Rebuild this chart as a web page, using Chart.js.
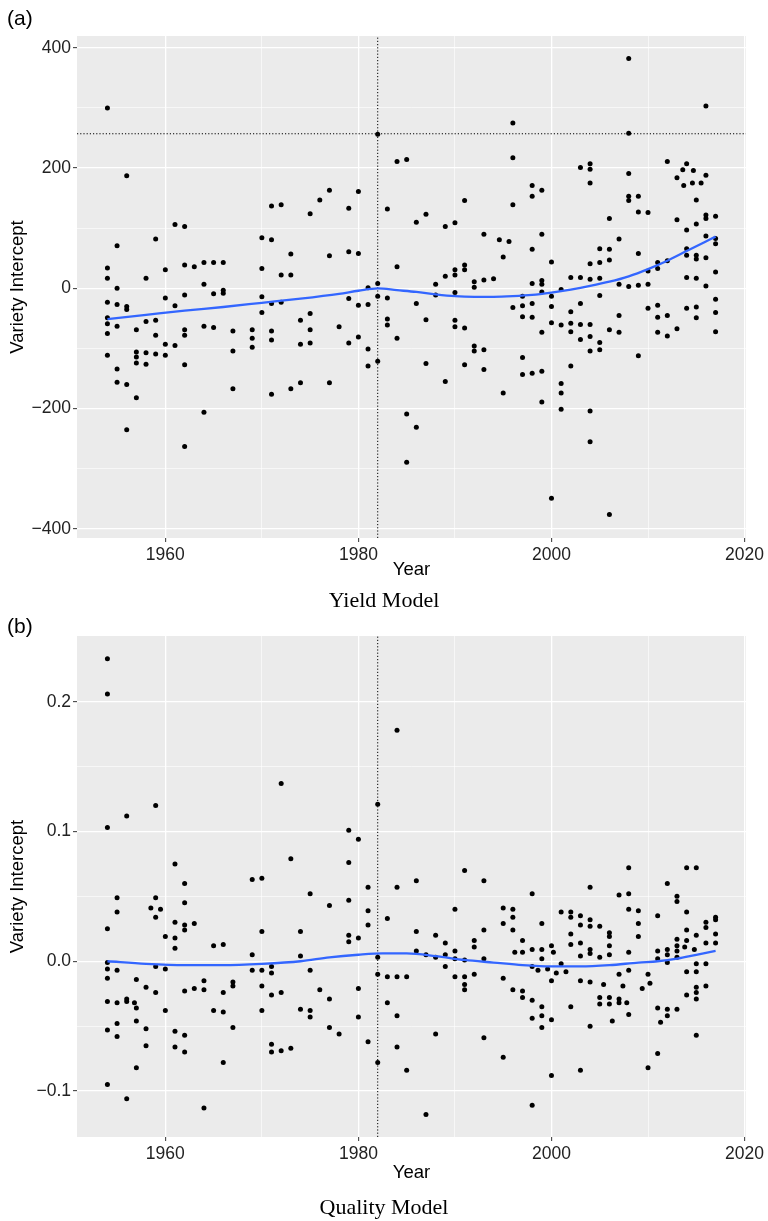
<!DOCTYPE html>
<html>
<head>
<meta charset="utf-8">
<script src="https://cdn.jsdelivr.net/npm/chart.js@4.4.0/dist/chart.umd.min.js"></script>
<style>
  body { margin: 0; background: #fff; width: 768px; height: 1221px; position: relative; overflow: hidden;
         font-family: "Liberation Sans", Arial, sans-serif; }
  canvas { position: absolute; left: 0; }
  #chartA { top: 0; }
  #chartB { top: 600px; }
  .tag { position: absolute; left: 7px; font-size: 21px; line-height: 24px; color: #000; }
  .caption { position: absolute; left: 0; width: 768px; text-align: center; line-height: 26px;
             font-family: "Liberation Serif", "Times New Roman", serif; font-size: 22px; color: #000; }
</style>
</head>
<body>
<canvas id="chartA" width="768" height="600"></canvas>
<canvas id="chartB" width="768" height="621"></canvas>
<div class="tag" style="top:6px">(a)</div>
<div class="tag" style="top:614px">(b)</div>
<div class="caption" style="top:587px">Yield Model</div>
<div class="caption" style="top:1194px">Quality Model</div>

<script>
// ---- data ----
const yieldYears = [1954, 1955, 1956, 1957, 1958, 1959, 1960, 1961, 1962, 1963, 1964, 1965, 1966, 1967, 1969,
    1970, 1971, 1972, 1973, 1974, 1975, 1976, 1977, 1978, 1979, 1980, 1981, 1982, 1983, 1984, 1985, 1986,
    1987, 1988, 1989, 1990, 1991, 1992, 1993, 1994, 1994.6, 1995, 1995.6, 1996, 1997, 1998, 1999, 2000,
    2001, 2002, 2003, 2004, 2005, 2006, 2007, 2008, 2009, 2010, 2011, 2012, 2013, 2013.6, 2013.7, 2014,
    2014.6, 2014.7, 2015, 2015.5, 2016, 2017];
const yieldValues = [
    [300, 34, 17, -23, -49, -59, -75, -111],
    [71, 0, -27, -63, -134, -156],
    [187, -30, -35, -160, -235],
    [-69, -106, -114, -124, -182],
    [17, -55, -107, -126],
    [82, -53, -78, -109],
    [31, -16, -93, -111],
    [106, -29, -95],
    [103, 39, -11, -69, -78, -127, -263],
    [36],
    [43, 7, -63, -206],
    [43, -9, -65],
    [43, -3, -8],
    [-71, -104, -167],
    [-69, -83, -98],
    [84, 33, -14, -40],
    [137, 81, -25, -71, -86, -176],
    [139, 22, -23],
    [57, 22, -167],
    [-53, -93, -157],
    [124, -42, -69, -91],
    [147],
    [163, 54, -157],
    [-64],
    [133, 61, -17, -91],
    [161, 58, -28, -81],
    [1, -27, -101, -129],
    [256, 8, -13, -121],
    [132, -16, -51, -61],
    [211, 36, -83],
    [214, -209, -289],
    [110, -25, -231],
    [123, -52, -125],
    [7, -11],
    [103, 20, -155],
    [109, 31, 22, -7, -53, -64],
    [146, 39, 31, -66, -127],
    [11, 2, -96, -104],
    [90, 14, -102, -135],
    [16],
    [81],
    [52, -174],
    [78],
    [275, 217, 139, -32],
    [-13, -29, -47, -115, -143],
    [171, 153, 65, 8, -25, -48, -141],
    [163, 90, 13, 7, -6, -73, -138, -189],
    [44, -13, -30, -57, -349],
    [-2, -61, -158, -174, -201],
    [18, -39, -58, -72, -129],
    [201, 18, -25, -60, -85],
    [207, 198, 175, 41, 15, -60, -80, -104, -204, -255],
    [66, 43, 17, -12, -90, -102],
    [116, 65, 47, -69, -376],
    [82, 7, -45, -73],
    [382, 258, 191, 153, 146, 3],
    [153, 127, 58, 5, -112],
    [126, 29, 7, -33],
    [43, 33, -28, -48, -73],
    [211, 46, -45, -79],
    [184, 114, -67],
    [197],
    [171],
    [207, 97, 66, 55, 18, -33],
    [175],
    [196],
    [147, 107, 55, 49, 17, -31, -49],
    [175],
    [303, 188, 122, 116, 87, 51, 4],
    [120, 83, 74, 27, -18, -40, -72]
];
const yieldSmoothYears = [1954, 1958, 1962, 1966, 1970, 1974, 1978, 1980, 1982, 1984, 1986, 1988, 1990,
    1992, 1994, 1996, 1998, 2000, 2002, 2004, 2006, 2008, 2010, 2012, 2014, 2016, 2017];
const yieldSmoothValues = [-51, -44, -37, -31, -24, -17, -9, -4, 0, -3, -6, -10, -13,
    -14, -14, -13, -11, -7, -2, 4, 11, 20, 32, 46, 62, 78, 86];

const qualityYears = [1954, 1955, 1956, 1956.8, 1957, 1958, 1958.5, 1959, 1959.5, 1960, 1961, 1962, 1963,
    1964, 1965, 1966, 1967, 1969, 1970, 1971, 1972, 1973, 1974, 1975, 1976, 1977, 1978, 1979, 1980, 1981,
    1982, 1983, 1984, 1985, 1986, 1987, 1988, 1989, 1990, 1991, 1992, 1993, 1995, 1996, 1996.2, 1997, 1998,
    1998.6, 1999, 1999.6, 2000, 2000.2, 2000.5, 2001, 2001.5, 2002, 2003, 2004, 2005, 2005.4, 2006, 2006.3,
    2007, 2007.4, 2007.8, 2008, 2009, 2009.4, 2010, 2010.2, 2011, 2011.3, 2012, 2013, 2013.8, 2014, 2014.8,
    2015, 2016, 2017];
const qualityValues = [
    [0.233, 0.206, 0.103, 0.025, -0.001, -0.006, -0.013, -0.031, -0.053, -0.095],
    [0.049, 0.038, -0.007, -0.032, -0.048, -0.058],
    [0.112, -0.029, -0.031, -0.106],
    [-0.032],
    [-0.014, -0.036, -0.046, -0.082],
    [-0.020, -0.052, -0.065],
    [0.041],
    [0.120, 0.049, 0.034, -0.004, -0.024],
    [0.040],
    [0.019, -0.006, -0.038],
    [0.075, 0.030, 0.018, 0.010, -0.054, -0.066],
    [0.060, 0.045, 0.028, 0.024, -0.023, -0.057, -0.070],
    [0.029, -0.021],
    [-0.015, -0.022, -0.113],
    [0.012, -0.038],
    [0.013, -0.024, -0.039, -0.078],
    [-0.016, -0.019, -0.051],
    [0.063, 0.005, -0.007],
    [0.064, 0.023, -0.007, -0.019, -0.038],
    [-0.004, -0.009, -0.026, -0.064, -0.070],
    [0.137, -0.024, -0.069],
    [0.079, -0.067],
    [0.023, 0.004, -0.037],
    [0.052, -0.007, -0.038, -0.043],
    [-0.022],
    [0.043, -0.029, -0.051],
    [-0.056],
    [0.101, 0.076, 0.047, 0.020, 0.015],
    [0.094, 0.018, -0.021, -0.043],
    [0.057, 0.039, 0.028, -0.062],
    [0.121, 0.003, -0.010, -0.078],
    [0.033, -0.012, -0.032],
    [0.178, 0.057, -0.012, -0.042, -0.066],
    [-0.012, -0.084],
    [0.062, 0.023, 0.008],
    [0.005, -0.118],
    [0.020, 0.003, -0.056],
    [0.014, 0.005, -0.004],
    [0.040, 0.008, 0.002, -0.012],
    [0.070, 0.001, -0.012, -0.018, -0.022],
    [0.016, 0.011, -0.010],
    [0.062, 0.024, 0.002, -0.059],
    [0.041, 0.029, -0.013, -0.074],
    [0.040, 0.034, 0.024, -0.022],
    [0.007],
    [0.016, 0.007, -0.023, -0.028],
    [0.052, 0.009, -0.004, -0.030, -0.044, -0.111],
    [-0.007],
    [0.029, 0.009, 0.002, -0.035, -0.042, -0.051],
    [-0.006],
    [0.012, -0.015, -0.045, -0.088],
    [0.007],
    [-0.009],
    [0.038, -0.002],
    [-0.008],
    [0.038, 0.034, 0.021, 0.013, -0.035],
    [0.035, 0.028, 0.014, 0.004, -0.015, -0.084],
    [0.057, 0.032, 0.027, 0.009, 0.006, -0.016, -0.050],
    [0.027, 0.003, -0.028, -0.033],
    [-0.018],
    [0.022, 0.019, 0.012, 0.005, -0.028, -0.033],
    [-0.046],
    [0.051, -0.010, -0.029, -0.032],
    [-0.019],
    [-0.032],
    [0.072, 0.052, 0.040, 0.007, -0.007, -0.041],
    [0.039, 0.029, 0.019],
    [-0.021],
    [-0.010, -0.082],
    [-0.017],
    [0.035, 0.008, 0.002, -0.036, -0.071],
    [-0.047],
    [0.060, 0.009, 0.005, -0.001, -0.037, -0.042],
    [0.050, 0.046, 0.017, 0.012, 0.008, 0.003, -0.037],
    [0.011],
    [0.072, 0.038, 0.024, 0.016, -0.008, -0.026],
    [0.009],
    [0.072, 0.020, -0.002, -0.008, -0.020, -0.024, -0.029, -0.057],
    [0.030, 0.026, 0.014, -0.002, -0.019],
    [0.034, 0.032, 0.021, 0.014]
];
const qualitySmoothYears = [1954, 1958, 1962, 1966, 1970, 1974, 1977, 1980, 1982.5, 1985, 1988, 1991,
    1994, 1997, 2000, 2003, 2006, 2009, 2011, 2013, 2015, 2017];
const qualitySmoothValues = [0.000, -0.002, -0.003, -0.003, -0.002, 0.000, 0.003, 0.005, 0.006, 0.006,
    0.004, 0.001, -0.001, -0.003, -0.004, -0.004, -0.003, -0.001, 0.000, 0.002, 0.005, 0.008];

const cutoffYear = 1982;
const yieldCutoff = 257;

const yearTicks = [1960, 1970, 1980, 1990, 2000, 2010, 2020];
const yearLabels = [1960, 1980, 2000, 2020];
const yieldTicks = [-400, -300, -200, -100, 0, 100, 200, 300, 400];
const yieldLabels = [-400, -200, 0, 200, 400];
const qualityTicks = [-0.1, -0.05, 0, 0.05, 0.1, 0.15, 0.2];
const qualityLabels = [-0.1, 0, 0.1, 0.2];

// ---- helpers ----
function points(years, values) {
    const out = [];
    years.forEach(function (yr, i) {
        values[i].forEach(function (v) { out.push({ x: yr, y: v }); });
    });
    return out;
}
function pairs(xs, ys) {
    return xs.map(function (x, i) { return { x: x, y: ys[i] }; });
}
function isLabel(list, v) {
    return list.some(function (l) { return Math.abs(l - v) < 1e-9; });
}
function minus(s) { return s.replace('-', '\u2212'); }

Chart.defaults.font.family = "'Liberation Sans', Arial, sans-serif";
Chart.defaults.color = '#222';

const panelBg = {
    id: 'panelBg',
    beforeDraw(chart) {
        const a = chart.chartArea;
        const ctx = chart.ctx;
        ctx.save();
        ctx.fillStyle = '#ebebeb';
        ctx.fillRect(a.left, a.top, a.right - a.left, a.bottom - a.top);
        ctx.restore();
    }
};

function makeChart(id, opts) {
    const datasets = [
        {
            type: 'scatter',
            data: points(opts.years, opts.values),
            pointRadius: 2.5,
            pointHoverRadius: 2.5,
            pointBackgroundColor: '#000',
            pointBorderWidth: 0,
            order: 3
        },
        {
            type: 'line',
            data: [{ x: cutoffYear, y: opts.yMin }, { x: cutoffYear, y: opts.yMax }],
            borderColor: '#000',
            borderWidth: 1,
            borderDash: [1.2, 2],
            pointRadius: 0,
            order: 2
        },
        {
            type: 'line',
            data: pairs(opts.smoothYears, opts.smoothValues),
            borderColor: '#3366ff',
            borderWidth: 2.3,
            pointRadius: 0,
            cubicInterpolationMode: 'monotone',
            order: 1
        }
    ];
    if (opts.hline !== undefined) {
        datasets.push({
            type: 'line',
            data: [{ x: 1950.85, y: opts.hline }, { x: 2020.15, y: opts.hline }],
            borderColor: '#000',
            borderWidth: 1,
            borderDash: [1.2, 2],
            pointRadius: 0,
            order: 2
        });
    }

    const gridWidth = function (list) {
        return function (ctx) { return isLabel(list, ctx.tick.value) ? 1.3 : 0.6; };
    };
    const tickCol = function (list) {
        return function (ctx) { return isLabel(list, ctx.tick.value) ? '#333' : 'rgba(0,0,0,0)'; };
    };

    return new Chart(document.getElementById(id), {
        data: { datasets: datasets },
        plugins: [panelBg],
        options: {
            responsive: false,
            animation: false,
            events: [],
            layout: { padding: { top: 36, right: 22, bottom: 0, left: 0 } },
            plugins: { legend: { display: false }, tooltip: { enabled: false } },
            scales: {
                x: {
                    type: 'linear',
                    min: 1950.85,
                    max: 2020.15,
                    afterBuildTicks: function (s) { s.ticks = yearTicks.map(function (v) { return { value: v }; }); },
                    afterFit: function (s) { s.height = opts.xHeight; },
                    grid: { color: '#fff', lineWidth: gridWidth(yearLabels), tickLength: 4, tickColor: tickCol(yearLabels), tickWidth: 1 },
                    border: { display: false },
                    ticks: {
                        autoSkip: false, maxRotation: 0, padding: 3,
                        font: { size: 17.5 }, color: '#222',
                        callback: function (v) { return isLabel(yearLabels, v) ? String(v) : ''; }
                    },
                    title: { display: true, text: 'Year', color: '#000', font: { size: 18.5 }, padding: { top: 0, bottom: opts.titlePad } }
                },
                y: {
                    type: 'linear',
                    min: opts.yMin,
                    max: opts.yMax,
                    afterBuildTicks: function (s) { s.ticks = opts.ticks.map(function (v) { return { value: v }; }); },
                    afterFit: function (s) { s.width = 77; },
                    grid: { color: '#fff', lineWidth: gridWidth(opts.labels), tickLength: 4, tickColor: tickCol(opts.labels), tickWidth: 1 },
                    border: { display: false },
                    ticks: {
                        autoSkip: false, padding: 2,
                        font: { size: 17.5 }, color: '#222',
                        callback: function (v) { return isLabel(opts.labels, v) ? opts.fmt(v) : ''; }
                    },
                    title: { display: true, text: 'Variety Intercept', color: '#000', font: { size: 18.5 }, padding: { top: 7, bottom: 0 } }
                }
            }
        }
    });
}

makeChart('chartA', {
    years: yieldYears, values: yieldValues,
    smoothYears: yieldSmoothYears, smoothValues: yieldSmoothValues,
    yMin: -415, yMax: 419.5, hline: yieldCutoff,
    ticks: yieldTicks, labels: yieldLabels,
    fmt: function (v) { return minus(String(v)); },
    xHeight: 62, titlePad: 19
});

makeChart('chartB', {
    years: qualityYears, values: qualityValues,
    smoothYears: qualitySmoothYears, smoothValues: qualitySmoothValues,
    yMin: -0.1354, yMax: 0.2506,
    ticks: qualityTicks, labels: qualityLabels,
    fmt: function (v) { return minus(v.toFixed(1)); },
    xHeight: 84, titlePad: 37
});
</script>
</body>
</html>
